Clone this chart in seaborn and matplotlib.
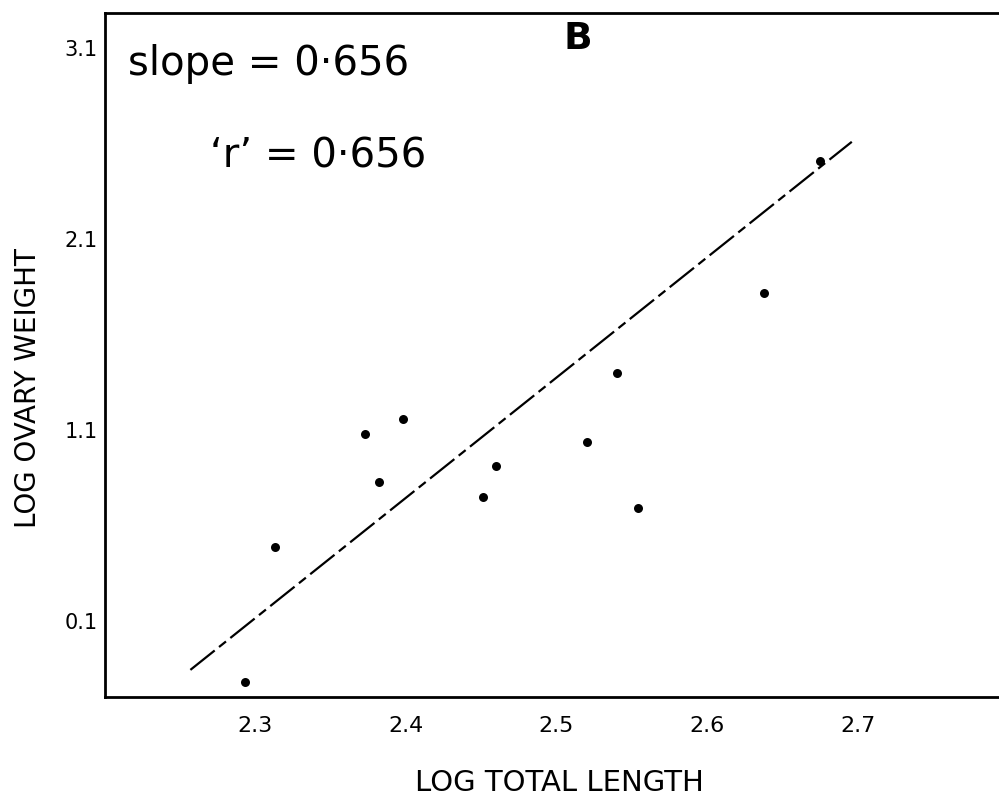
import matplotlib
matplotlib.use("Agg")
import matplotlib.pyplot as plt
import seaborn as sns
import pandas as pd

# ---- data ----
log_length = [2.293, 2.313, 2.373, 2.382, 2.398, 2.451, 2.460, 2.520, 2.540, 2.554, 2.638, 2.675]
log_weight = [-0.22, 0.49, 1.08, 0.83, 1.16, 0.75, 0.91, 1.04, 1.40, 0.69, 1.82, 2.51]
fit_x = [2.257, 2.696]
fit_y = [-0.155, 2.61]
x_ticks = [2.3, 2.4, 2.5, 2.6, 2.7]
x_ticklabels = ["2.3", "2.4", "2.5", "2.6", "2.7"]
y_ticks = [0.1, 1.1, 2.1, 3.1]
y_ticklabels = ["0.1", "1.1", "2.1", "3.1"]
x_label = "LOG TOTAL LENGTH"
y_label = "LOG OVARY WEIGHT"
slope_text = "slope = 0·656"
r_text = "‘r’ = 0·656"
panel_text = "B"

sns.set_style("white")
plt.rcParams["font.family"] = ["DejaVu Sans"]
plt.rcParams["text.color"] = "black"
plt.rcParams["xtick.color"] = "black"
plt.rcParams["ytick.color"] = "black"

df = pd.DataFrame({"x": log_length, "y": log_weight})
fit = pd.DataFrame({"x": fit_x, "y": fit_y})

fig = plt.figure(figsize=(9.99, 8.02), dpi=100)
ax = fig.add_axes([104.5 / 999, 105 / 802, 904 / 999, 684.3 / 802])

sns.lineplot(data=fit, x="x", y="y", ax=ax, color="black", linewidth=1.6,
             dashes=False, linestyle=(0, (14, 2.5, 4, 2.5)))
sns.scatterplot(data=df, x="x", y="y", ax=ax, color="black", s=42,
                edgecolor="black", linewidth=0, zorder=3)

ax.set_xlim(2.2, 2.8)
ax.set_ylim(-0.297, 3.286)
ax.set_xticks(x_ticks)
ax.set_xticklabels(x_ticklabels, fontsize=16, color="black")
ax.set_yticks(y_ticks)
ax.set_yticklabels(y_ticklabels, fontsize=15, color="black")
ax.tick_params(axis="x", direction="in", length=11, width=2, pad=14, colors="black")
ax.tick_params(axis="y", direction="in", length=12, width=2, pad=5, colors="black")
ax.set_xlabel("")
ax.set_ylabel("")
for side in ["left", "bottom", "top"]:
    ax.spines[side].set_linewidth(2.0)
    ax.spines[side].set_color("black")
ax.spines["right"].set_visible(False)

fig.text(559 / 999, 1 - 783 / 802, x_label, ha="center", va="center", fontsize=21, color="black")
fig.text(28 / 999, 1 - 388 / 802, y_label, ha="center", va="center", rotation=90, fontsize=20, color="black")
fig.text(128 / 999, 1 - 75 / 802, slope_text, ha="left", va="baseline", fontsize=29, color="black")
fig.text(210 / 999, 1 - 168 / 802, r_text, ha="left", va="baseline", fontsize=29, color="black")
fig.text(578 / 999, 1 - 39 / 802, panel_text, ha="center", va="center", fontsize=27,
         fontweight="bold", color="black")

fig.savefig("out.png", dpi=100)
